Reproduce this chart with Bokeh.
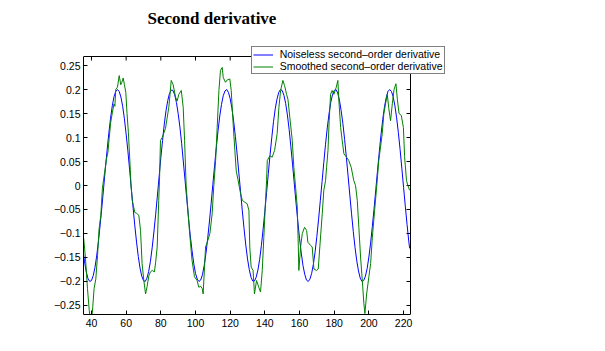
from bokeh.plotting import figure
from bokeh.models import Range1d, LinearAxis, FixedTicker, Legend, LegendItem, Label
from bokeh.embed import file_html
from bokeh.resources import INLINE

# ---------------- data ----------------
x_ticks = [40, 60, 80, 100, 120, 140, 160, 180, 200, 220]
y_ticks = [-0.25, -0.2, -0.15, -0.1, -0.05, 0.0, 0.05, 0.1, 0.15, 0.2, 0.25]
y_labels = ["\u22120.25", "\u22120.2", "\u22120.15", "\u22120.1", "\u22120.05", "0",
            "0.05", "0.1", "0.15", "0.2", "0.25"]

# axes box limits
x_lo, x_hi = 35.4, 224.0
y_lo, y_hi = -0.2688, 0.2688

# noiseless second-order derivative (blue)
blue_x = [35, 36, 37, 38, 39, 40, 41, 42, 43, 44, 45, 46, 47, 48, 49, 50, 51, 52, 53, 54,
          55, 56, 57, 58, 59, 60, 61, 62, 63, 64, 65, 66, 67, 68, 69, 70, 71, 72, 73, 74,
          75, 76, 77, 78, 79, 80, 81, 82, 83, 84, 85, 86, 87, 88, 89, 90, 91, 92, 93, 94,
          95, 96, 97, 98, 99, 100, 101, 102, 103, 104, 105, 106, 107, 108, 109, 110, 111,
          112, 113, 114, 115, 116, 117, 118, 119, 120, 121, 122, 123, 124, 125, 126, 127,
          128, 129, 130, 131, 132, 133, 134, 135, 136, 137, 138, 139, 140, 141, 142, 143,
          144, 145, 146, 147, 148, 149, 150, 151, 152, 153, 154, 155, 156, 157, 158, 159,
          160, 161, 162, 163, 164, 165, 166, 167, 168, 169, 170, 171, 172, 173, 174, 175,
          176, 177, 178, 179, 180, 181, 182, 183, 184, 185, 186, 187, 188, 189, 190, 191,
          192, 193, 194, 195, 196, 197, 198, 199, 200, 201, 202, 203, 204, 205, 206, 207,
          208, 209, 210, 211, 212, 213, 214, 215, 216, 217, 218, 219, 220, 221, 222, 223,
          223.5]
blue_y = [-0.131, -0.159, -0.180, -0.194, -0.200, -0.198, -0.188, -0.171, -0.147, -0.117,
          -0.082, -0.045, -0.005, 0.035, 0.073, 0.109, 0.140, 0.166, 0.185, 0.196,
          0.200, 0.196, 0.184, 0.165, 0.139, 0.107, 0.072, 0.033, -0.007, -0.046,
          -0.084, -0.118, -0.148, -0.172, -0.189, -0.198, -0.200, -0.193, -0.179, -0.158,
          -0.130, -0.097, -0.061, -0.022, 0.018, 0.058, 0.094, 0.128, 0.156, 0.177,
          0.192, 0.199, 0.198, 0.189, 0.173, 0.150, 0.122, 0.088, 0.049, 0.010,
          -0.030, -0.069, -0.105, -0.136, -0.163, -0.183, -0.195, -0.200, -0.197, -0.186,
          -0.167, -0.142, -0.111, -0.076, -0.038, 0.002, 0.041, 0.079, 0.114, 0.145,
          0.169, 0.187, 0.197, 0.200, 0.194, 0.181, 0.161, 0.134, 0.102, 0.066,
          0.026, -0.013, -0.053, -0.090, -0.124, -0.153, -0.175, -0.191, -0.199, -0.199,
          -0.191, -0.176, -0.154, -0.125, -0.091, -0.054, -0.015, 0.025, 0.064, 0.100,
          0.133, 0.160, 0.180, 0.194, 0.200, 0.198, 0.188, 0.171, 0.147, 0.117,
          0.081, 0.043, 0.003, -0.037, -0.075, -0.110, -0.141, -0.167, -0.185, -0.197,
          -0.200, -0.195, -0.183, -0.164, -0.138, -0.106, -0.070, -0.031, 0.008, 0.048,
          0.086, 0.120, 0.149, 0.173, 0.189, 0.198, 0.200, 0.193, 0.178, 0.156,
          0.129, 0.096, 0.059, 0.020, -0.020, -0.059, -0.096, -0.129, -0.157, -0.178,
          -0.193, -0.200, -0.198, -0.189, -0.173, -0.149, -0.120, -0.085, -0.048, -0.008,
          0.032, 0.070, 0.106, 0.138, 0.164, 0.183, 0.196, 0.200, 0.196, 0.185,
          0.166, 0.141, 0.110, 0.075, 0.036, -0.004, -0.043, -0.081, -0.116, -0.131]

# smoothed second-order derivative (green)
green_x = [35.5, 36.5, 37.7, 38.7, 39.6, 40.5, 41.5, 42.5, 43.5, 44.4, 45.4, 46.3, 47.3,
           48.7, 49.5, 50.2, 51.1, 52.1, 53.0, 53.5, 54.0, 55.0, 56.0, 56.9, 57.5, 58.3,
           59.0, 59.8, 60.5, 61.3, 62.3, 62.8, 63.5, 65.0, 66.0, 67.3, 68.3, 69.2, 70.2,
           71.2, 72.1, 73.1, 74.0, 75.0, 76.3, 77.0, 77.9, 78.8, 79.3, 79.8, 80.8, 81.8,
           82.7, 83.6, 84.6, 85.3, 86.0, 87.1, 88.5, 89.4, 90.4, 91.8, 92.9, 93.7, 94.6,
           95.2, 96.5, 98.0, 99.4, 100.9, 101.9, 103.0, 103.9, 104.4, 105.2, 105.8, 106.8,
           108.3, 109.6, 110.5, 111.6, 112.5, 113.5, 114.4, 115.4, 116.0, 117.3, 118.3,
           119.8, 120.6, 121.7, 122.7, 123.5, 124.5, 126.0, 127.0, 128.5, 129.8, 130.8,
           131.3, 132.1, 133.2, 134.0, 135.2, 136.5, 137.5, 138.5, 139.4, 140.4, 141.0,
           141.4, 142.9, 144.2, 145.6, 147.1, 148.1, 149.1, 150.4, 151.4, 152.5, 153.3,
           154.4, 155.8, 156.7, 157.7, 158.7, 159.3, 159.6, 160.6, 161.6, 162.9, 164.1,
           164.8, 166.4, 167.3, 168.3, 169.8, 170.8, 171.7, 173.1, 174.0, 175.0, 175.6,
           176.4, 177.1, 177.9, 178.8, 179.8, 181.2, 182.1, 182.7, 183.7, 184.6, 185.6,
           187.1, 188.4, 189.8, 191.3, 192.3, 193.3, 194.2, 195.2, 196.2, 197.1, 197.7,
           198.7, 200.0, 201.0, 202.0, 203.3, 204.8, 205.7, 206.7, 207.7, 208.6, 209.6,
           210.6, 211.5, 212.5, 213.5, 214.5, 215.6, 216.4, 217.4, 218.7, 219.9, 220.6,
           221.7, 222.5, 223.5]
green_y = [-0.110, -0.150, -0.215, -0.260, -0.285, -0.265, -0.215, -0.195, -0.146, -0.090,
           -0.062, -0.006, 0.020, 0.056, 0.070, 0.098, 0.132, 0.153, 0.170, 0.165, 0.200,
           0.205, 0.229, 0.210, 0.215, 0.224, 0.210, 0.194, 0.150, 0.110, 0.040, 0.000,
           -0.031, -0.056, -0.058, -0.062, -0.094, -0.163, -0.198, -0.226, -0.210, -0.188,
           -0.180, -0.177, -0.180, -0.160, -0.128, -0.031, 0.020, 0.094, 0.100, 0.110,
           0.119, 0.140, 0.163, 0.190, 0.219, 0.210, 0.184, 0.176, 0.190, 0.198, 0.163,
           0.094, 0.000, -0.031, -0.094, -0.156, -0.190, -0.198, -0.212, -0.210, -0.215,
           -0.226, -0.170, -0.128, -0.118, -0.100, -0.059, -0.003, 0.052, 0.121, 0.198,
           0.240, 0.246, 0.225, 0.215, 0.220, 0.222, 0.198, 0.129, 0.073, 0.030, 0.012,
           -0.017, -0.031, -0.035, -0.038, -0.052, -0.128, -0.170, -0.177, -0.226, -0.198,
           -0.212, -0.222, -0.177, -0.108, -0.031, 0.010, 0.052, 0.062, 0.059, 0.073,
           0.108, 0.163, 0.198, 0.219, 0.208, 0.190, 0.180, 0.142, 0.094, 0.038, -0.003,
           -0.045, -0.128, -0.177, -0.128, -0.100, -0.087, -0.094, -0.118, -0.125, -0.128,
           -0.174, -0.177, -0.174, -0.128, -0.059, -0.010, 0.010, 0.038, 0.073, 0.135,
           0.190, 0.198, 0.190, 0.205, 0.219, 0.176, 0.121, 0.094, 0.066, 0.059, 0.052,
           0.038, 0.010, 0.000, -0.031, -0.087, -0.149, -0.198, -0.246, -0.267, -0.226,
           -0.190, -0.163, -0.108, -0.052, 0.010, 0.052, 0.080, 0.108, 0.149, 0.170,
           0.190, 0.160, 0.135, 0.170, 0.200, 0.212, 0.180, 0.150, 0.146, 0.121, 0.060,
           0.010, 0.000, -0.010]

title_text = "Second derivative"
label_blue = "Noiseless second\u2013order derivative"
label_green = "Smoothed second\u2013order derivative"

# ---------------- figure ----------------
# The frame spans the whole canvas to the right of / above the axes box, so that
# the title and the legend (which overlaps the box corner) are not clipped.
FRAME_W = 605 - 83
FRAME_H = 314
PX_PER_X = 327 / (x_hi - x_lo)
PX_PER_Y = 258 / (y_hi - y_lo)

p = figure(width=605, height=351, output_backend="svg", toolbar_location=None,
           x_range=Range1d(x_lo, x_lo + FRAME_W / PX_PER_X),
           y_range=Range1d(y_lo, y_lo + FRAME_H / PX_PER_Y),
           min_border_left=83, min_border_right=0, min_border_top=0,
           min_border_bottom=37, x_axis_location=None, y_axis_location=None)
p.background_fill_color = "white"
p.border_fill_color = "white"
p.outline_line_color = None
p.xgrid.visible = False
p.ygrid.visible = False

FONT = "Liberation Sans"

bottom = LinearAxis(ticker=FixedTicker(ticks=x_ticks), bounds=(x_lo, x_hi))
left = LinearAxis(ticker=FixedTicker(ticks=y_ticks), bounds=(y_lo, y_hi),
                  major_label_overrides=dict(zip(y_ticks, y_labels)))
for ax in (bottom, left):
    ax.axis_line_color = "black"
    ax.axis_line_width = 1
    ax.major_tick_in = 4
    ax.major_tick_out = 0
    ax.minor_tick_line_color = None
    ax.major_tick_line_color = "black"
    ax.major_label_text_font = FONT
    ax.major_label_text_font_size = "10.5px"
    ax.major_label_text_color = "black"
bottom.major_label_standoff = 4
left.major_label_standoff = 3
p.add_layout(bottom, "below")
p.add_layout(left, "left")

# top and right edges of the axes box, with inward ticks
p.segment(x0=[x_lo, x_hi], y0=[y_hi, y_lo], x1=[x_hi, x_hi], y1=[y_hi, y_hi],
          line_color="black", line_width=1)
p.segment(x0=x_ticks, y0=[y_hi] * len(x_ticks), x1=x_ticks,
          y1=[y_hi - 4 / PX_PER_Y] * len(x_ticks), line_color="black", line_width=1)
p.segment(x0=[x_hi] * len(y_ticks), y0=y_ticks, x1=[x_hi - 4 / PX_PER_X] * len(y_ticks),
          y1=y_ticks, line_color="black", line_width=1)

rb = p.line(blue_x, blue_y, line_color="#0000ff", line_width=1)
rg = p.line(green_x, green_y, line_color="#008000", line_width=1)

legend = Legend(items=[LegendItem(label=label_blue, renderers=[rb]),
                       LegendItem(label=label_green, renderers=[rg])],
                location=(167.7, 240), margin=0, padding=1, spacing=0,
                glyph_width=20, glyph_height=11, label_height=11, label_standoff=7,
                label_text_font=FONT, label_text_font_size="10.5px",
                label_text_color="black",
                border_line_color="black", border_line_width=1,
                background_fill_color="white", background_fill_alpha=1.0)
p.add_layout(legend, "center")

title = Label(x=64, y=296, x_units="screen", y_units="screen", text=title_text,
              text_font="Liberation Serif", text_font_style="bold",
              text_font_size="17px", text_color="black", text_baseline="alphabetic")
p.add_layout(title)

open("out.html", "w").write(file_html(p, INLINE))
